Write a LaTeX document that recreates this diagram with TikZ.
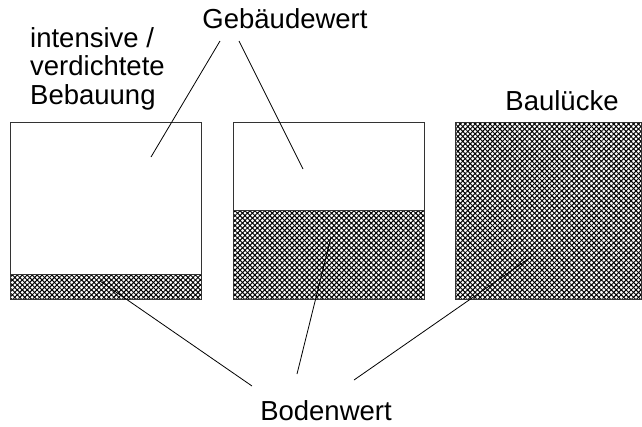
\documentclass[tikz,border=0pt]{standalone}
\usepackage{fontspec}
\setmainfont{Liberation Sans}
\usetikzlibrary{patterns.meta}
\begin{document}
\begin{tikzpicture}[x=1pt,y=-1pt,
  lbl/.style={inner sep=0pt,font=\fontsize{27.5}{28.5}\selectfont},
  frame/.style={draw=black!80,line width=0.9pt},
  hatchA/.style={pattern={Lines[angle=45,distance=3.5pt,line width=1.0pt]},pattern color=black},
  hatchB/.style={pattern={Lines[angle=-45,distance=3.5pt,line width=1.0pt]},pattern color=black},
  lead/.style={draw=black,line width=0.8pt}]
\useasboundingbox (0,0) rectangle (642,426);

% soil share (hatched) of each plot
\foreach \xa/\xb/\ya in {10/201/274, 233/424/210, 455/641/122}{
  \fill[hatchA] (\xa,\ya) rectangle (\xb,299);
  \fill[hatchB] (\xa,\ya) rectangle (\xb,299);
  \draw[frame] (\xa,\ya) -- (\xb,\ya);
}
% plot outlines
\node[frame,inner sep=0pt,minimum width=191pt,minimum height=177pt,anchor=north west] (b1) at (10,122) {};
\node[frame,inner sep=0pt,minimum width=191pt,minimum height=177pt,anchor=north west] (b2) at (233,122) {};
\node[frame,inner sep=0pt,minimum width=186pt,minimum height=177pt,anchor=north west] (b3) at (455,122) {};

% labels
\node[lbl,anchor=base] (geb) at (285,28) {Gebäudewert};
\node[lbl,anchor=base] (bod) at (326,420) {Bodenwert};
\node[lbl,anchor=base] (bl) at (562,110) {Baulücke};
\node[lbl,anchor=north west,align=left] (int) at (30,27) {intensive /\\verdichtete\\Bebauung};

% leader line end points
\coordinate (g1) at (220,41);
\coordinate (g2) at (239,41);
\coordinate (gA) at (151,157);
\coordinate (gB) at (303,169);
\coordinate (d1) at (252,386);
\coordinate (d2) at (297,374);
\coordinate (d3) at (354,380);
\coordinate (dA) at (100,281);
\coordinate (dB) at (331,237);
\coordinate (dC) at (531,257);

\draw[lead] (g1) -- (gA);
\draw[lead] (g2) -- (gB);
\draw[lead] (d1) -- (dA);
\draw[lead] (d2) -- (dB);
\draw[lead] (d3) -- (dC);
\end{tikzpicture}
\end{document}
